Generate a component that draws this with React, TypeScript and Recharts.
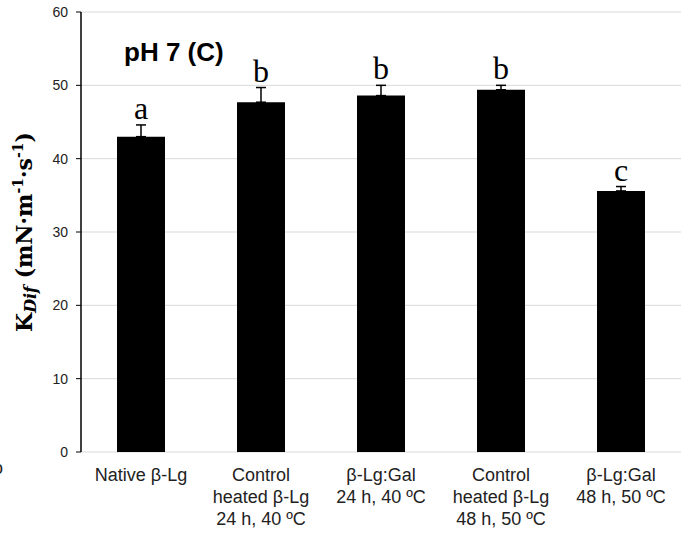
import React from 'react';
import { BarChart, Bar, XAxis, YAxis, CartesianGrid, ErrorBar, LabelList } from 'recharts';

const categories = [
  'Native β-Lg',
  'Control\nheated β-Lg\n24 h, 40 ºC',
  'β-Lg:Gal\n24 h, 40 ºC',
  'Control\nheated β-Lg\n48 h, 50 ºC',
  'β-Lg:Gal\n48 h, 50 ºC',
];
const kdifValues = [43.0, 47.7, 48.6, 49.4, 35.6];
const upperErrors = [1.6, 2.0, 1.4, 0.6, 0.6];
const groupLetters = ['a', 'b', 'b', 'b', 'c'];
const yTicks = [0, 10, 20, 30, 40, 50, 60];
const boundaryTicks = [0, 1, 2, 3, 4, 5];

const data = categories.map((name, i) => ({
  name,
  value: kdifValues[i],
  err: [0, upperErrors[i]],
  letter: groupLetters[i],
}));

const CategoryTick = (props: any) => {
  const { x, y, payload } = props;
  const lines = String(payload.value).split('\n');
  return (
    <text x={x} y={y} textAnchor="middle" fill="#222" fontFamily="Liberation Sans" fontSize={18}>
      {lines.map((l, i) => (
        <tspan key={i} x={x} dy={i === 0 ? 29 : 22}>
          {l}
        </tspan>
      ))}
    </text>
  );
};

const LetterLabel = (props: any) => {
  const { x, y, width, height, value, index } = props;
  const v = kdifValues[index];
  const pxPerUnit = height / v;
  const top = y - upperErrors[index] * pxPerUnit;
  return (
    <text x={x + width / 2} y={top - 6} textAnchor="middle" fontFamily="Liberation Serif" fontSize={32} fill="#000">
      {value}
    </text>
  );
};

const YLabel = (props: any) => {
  const vb = props.viewBox || { x: 0, y: 12, width: 81, height: 440 };
  const cx = vb.x + 32;
  const cy = vb.y + vb.height / 2;
  return (
    <text
      x={cx}
      y={cy}
      transform={`rotate(-90, ${cx}, ${cy})`}
      textAnchor="middle"
      fontFamily="DejaVu Serif"
      fontWeight="bold"
      fontSize={22}
      fill="#000"
    >
      <tspan>K</tspan>
      <tspan fontStyle="italic" fontSize={16} dy={4}>Dif</tspan>
      <tspan dy={-4}> (mN·m</tspan>
      <tspan fontSize={14} dy={-9}>-1</tspan>
      <tspan dy={9}>·s</tspan>
      <tspan fontSize={14} dy={-9}>-1</tspan>
      <tspan dy={9}>)</tspan>
    </text>
  );
};

export default function App() {
  return (
    <div style={{ position: 'absolute', left: 0, top: 0, width: 694, height: 537, background: '#fff' }}>
      <BarChart width={694} height={537} data={data} margin={{ top: 12, right: 13, bottom: 0, left: 0 }}>
        <CartesianGrid vertical={false} stroke="#d9d9d9" xAxisId="cat" />
        <XAxis
          xAxisId="ticks"
          type="number"
          domain={[0, 5]}
          ticks={boundaryTicks}
          tickFormatter={() => ''}
          tickSize={5}
          height={0}
          axisLine={{ stroke: '#000', strokeWidth: 1.5 }}
          tickLine={{ stroke: '#000', strokeWidth: 1.2 }}
          allowDataOverflow
        />
        <XAxis
          xAxisId="cat"
          dataKey="name"
          height={85}
          tickSize={0}
          tickMargin={0}
          axisLine={false}
          tickLine={false}
          interval={0}
          tick={<CategoryTick />}
        />
        <YAxis
          domain={[0, 60]}
          ticks={yTicks}
          width={81}
          tickSize={5}
          tickMargin={8}
          axisLine={{ stroke: '#000', strokeWidth: 1.5 }}
          tickLine={{ stroke: '#000' }}
          tick={{ fill: '#222', fontSize: 14, fontFamily: 'Liberation Sans' }}
          label={{ content: (p: any) => <YLabel {...p} /> }}
        />
        <Bar xAxisId="cat" dataKey="value" fill="#000" barSize={48} isAnimationActive={false}>
          <ErrorBar dataKey="err" direction="y" width={5} stroke="#000" strokeWidth={1.5} />
          <LabelList dataKey="letter" content={LetterLabel} />
        </Bar>
      </BarChart>
      <svg width={694} height={537} style={{ position: 'absolute', left: 0, top: 0, pointerEvents: 'none' }}>
        <text x={124} y={61} fontFamily="Liberation Sans" fontWeight="bold" fontSize={26} fill="#000">
          pH 7 (C)
        </text>
        <text x={-7} y={474} fontFamily="Liberation Sans" fontSize={18} fill="#222">
          o
        </text>
      </svg>
    </div>
  );
}
